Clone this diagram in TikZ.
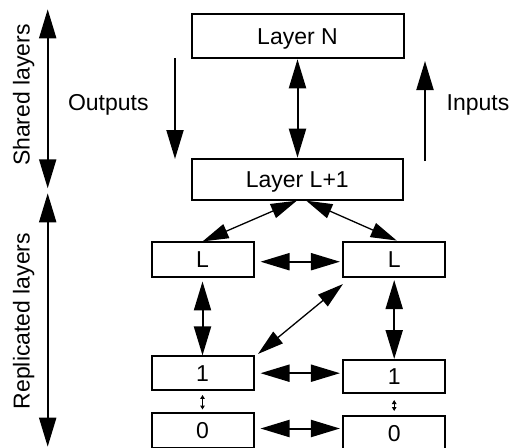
\documentclass[tikz,border=0pt]{standalone}
\usepackage{fontspec}
\setmainfont{Liberation Sans}
\usetikzlibrary{arrows.meta,calc}
\begin{document}
\begin{tikzpicture}[x=1pt,y=-1pt,
  lbl/.style={font=\fontsize{23}{23}\selectfont, inner sep=0pt, anchor=base},
  box/.style={draw, line width=2pt, inner sep=0pt, text height=16.5pt, text depth=0pt,
    font=\fontsize{23}{23}\selectfont},
  bigarr/.style={line width=2pt, {Triangle[length=29pt,width=17pt]}-{Triangle[length=29pt,width=17pt]}},
  onearr/.style={line width=2pt, -{Triangle[length=29pt,width=17pt]}},
  diagarr/.style={line width=1.3pt, {Triangle[length=26pt,width=15pt]}-{Triangle[length=26pt,width=15pt]}},
  tinyarr/.style={line width=1.2pt, {Triangle[length=4pt,width=4.5pt]}-{Triangle[length=4pt,width=4.5pt]}}
]
\useasboundingbox (0,0) rectangle (511,447);
\clip (0,0) rectangle (511,447);

% boxes
\node[box, minimum width=212pt, minimum height=44.5pt] (N) at (297.5,36) {Layer N};
\node[box, minimum width=211.5pt, minimum height=41pt] (L1) at (297.3,179.2) {Layer L+1};
\node[box, minimum width=102pt, minimum height=34.5pt] (Ll) at (202.5,259.7) {L};
\node[box, minimum width=101.5pt, minimum height=35.5pt] (Lr) at (394.2,259.3) {L};
\node[box, minimum width=102pt, minimum height=33.5pt] (Ol) at (202.5,373.2) {1};
\node[box, minimum width=101.5pt, minimum height=33pt] (Or) at (394.2,376.5) {1};
\node[box, minimum width=102pt, minimum height=35pt] (Zl) at (202.5,430) {0};
\node[box, minimum width=101.5pt, minimum height=35pt] (Zr) at (394.2,433) {0};

% labels
\node[lbl] (outl) at (108.3,110) {Outputs};
\node[lbl] (inl) at (478,110) {Inputs};
\node[lbl, rotate=90] (shl) at (29.7,95) {Shared layers};
\node[lbl, rotate=90] (rpl) at (29.7,321) {Replicated layers};

% free ends
\coordinate (s1) at (47.7,9.3);
\coordinate (s2) at (47.7,188.3);
\coordinate (r1) at (47.7,193.3);
\coordinate (r2) at (47.7,446.7);
\coordinate (o1) at (175,58);
\coordinate (o2) at (175,159);
\coordinate (i1) at (425,161);
\coordinate (i2) at (425,61);

% left scale arrows
\draw[bigarr] (s1) -- (s2);
\draw[bigarr] (r1) -- (r2);

% outputs / inputs
\draw[onearr] (o1) -- (o2);
\draw[onearr] (i1) -- (i2);

% N <-> L+1
\draw[bigarr] (N.south) -- (N.south |- L1.north);

% L+1 <-> L's
\draw[diagarr] ([xshift=-0.5pt]L1.south) -- (Ll.north);
\draw[diagarr] ([xshift=9pt]L1.south) -- ([xshift=2.5pt]Lr.north);

% L <-> L
\draw[bigarr] ($(Ll.east)+(6,2)$) -- ($(Ll.east -| Lr.west)+(-2.5,2)$);

% L <-> 1
\draw[bigarr, shorten <=3.5pt] (Ll.south) -- (Ol.north);
\draw[bigarr, shorten <=2pt] (Lr.south) -- (Or.north);

% diagonal
\draw[diagarr] ($(Ol.north east)+(3.5,-1.5)$) -- ($(Lr.south west)+(0.5,6)$);

% 1 <-> 1
\draw[bigarr, shorten <=6pt, shorten >=2.5pt] (Ol.east) -- (Ol.east -| Or.west);

% 0 <-> 0
\draw[bigarr, shorten <=6pt, shorten >=2.5pt] ($(Zl.east)+(0,-1.5)$) -- ($(Zl.east -| Zr.west)+(0,-1.5)$);

% 1 <-> 0 small
\draw[tinyarr, shorten <=4pt, shorten >=2pt] (Ol.south) -- (Zl.north);
\draw[tinyarr, shorten <=6pt, shorten >=3.5pt] (Or.south) -- (Zr.north);
\end{tikzpicture}
\end{document}
